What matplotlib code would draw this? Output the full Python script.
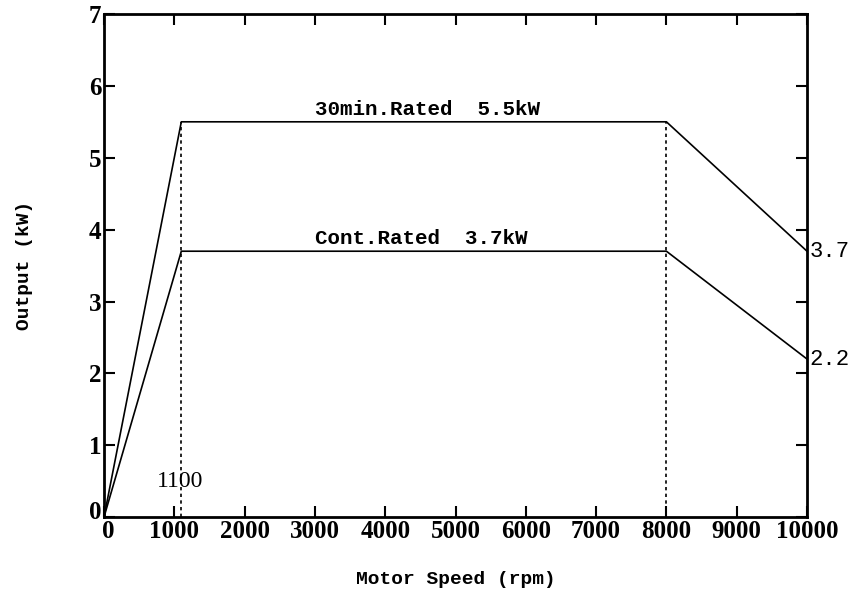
import matplotlib
matplotlib.use('Agg')
import matplotlib.pyplot as plt
from matplotlib.transforms import ScaledTranslation

# motor output curves
speed = [0, 1100, 8000, 10000]
rated_30min = [0, 5.5, 5.5, 3.7]
rated_cont = [0, 3.7, 3.7, 2.2]
corner_speeds = [1100, 8000]
x_ticks = [0, 1000, 2000, 3000, 4000, 5000, 6000, 7000, 8000, 9000, 10000]
y_ticks = [0, 1, 2, 3, 4, 5, 6, 7]

tick_font = {'family': 'Liberation Serif', 'weight': 'bold', 'size': 18}
mono_font = {'family': 'Liberation Mono', 'weight': 'bold', 'size': 14}

fig = plt.figure(figsize=(8.53, 6), dpi=100)
ax = fig.add_axes([0.1219, 0.138, 0.8242, 0.8387])

ax.plot(speed, rated_30min, color='black', lw=1.2)
ax.plot(speed, rated_cont, color='black', lw=1.2)
for s in corner_speeds:
    ax.plot([s, s], [0, rated_30min[1]], color='black', lw=1.2, ls=(0, (2, 2)))

ax.text(3000, 5.5 + 0.04, '30min.Rated  5.5kW', ha='left', va='bottom',
        family='Liberation Mono', fontsize=15, fontweight='bold')
ax.text(3000, 3.7 + 0.04, 'Cont.Rated  3.7kW', ha='left', va='bottom',
        family='Liberation Mono', fontsize=15, fontweight='bold')
ax.text(1080, 0.49, '1100', ha='center', va='center',
        family='Liberation Serif', fontsize=17)
ax.text(10040, rated_30min[-1], '3.7', ha='left', va='center',
        family='Liberation Mono', fontsize=16)
ax.text(10040, rated_cont[-1], '2.2', ha='left', va='center',
        family='Liberation Mono', fontsize=16)

ax.set_xlim(0, 10000)
ax.set_ylim(0, 7)
ax.set_xticks(x_ticks)
ax.set_yticks(y_ticks)
ax.set_xticklabels([str(v) for v in x_ticks], fontdict=tick_font)
ax.set_yticklabels([str(v) for v in y_ticks], fontdict=tick_font)
ax.tick_params(direction='in', length=8, width=1.5, top=True, right=True,
               labeltop=False, labelright=False, pad=2)
for sp in ax.spines.values():
    sp.set_linewidth(2)

# the two zeros at the corner sit apart, as in the original
ylab0 = ax.get_yticklabels()[0]
ylab0.set_transform(ylab0.get_transform() + ScaledTranslation(0, 5 / 72, fig.dpi_scale_trans))
xlab0 = ax.get_xticklabels()[0]
xlab0.set_transform(xlab0.get_transform() + ScaledTranslation(3 / 72, 0, fig.dpi_scale_trans))

ax.set_xlabel('Motor Speed (rpm)', fontdict=mono_font, labelpad=20)
ax.set_ylabel('Output (kW)', fontdict=mono_font, labelpad=40)

fig.savefig('out.png', dpi=100)
